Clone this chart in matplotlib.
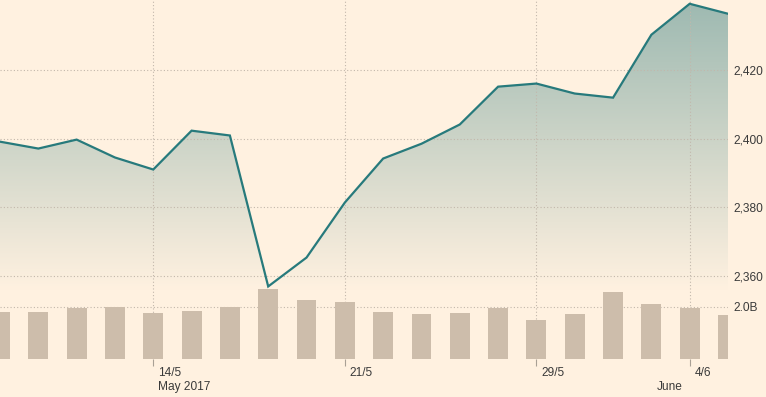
import matplotlib.pyplot as plt
import numpy as np
from matplotlib.colors import to_rgb

plt.rcParams.update({'font.family': 'Liberation Sans', 'font.size': 8.6})

# daily closes and volume (billions)
close = [2399.1, 2397.1, 2399.7, 2394.5, 2391.0, 2402.3, 2400.9, 2357.0, 2365.4, 2381.4,
         2394.2, 2398.5, 2404.1, 2415.1, 2416.0, 2413.1, 2411.9, 2430.2, 2439.2, 2436.3]
volume = [1.81, 1.81, 1.97, 2.00, 1.77, 1.85, 2.00, 2.69, 2.27, 2.19,
          1.81, 1.74, 1.77, 1.97, 1.50, 1.74, 2.58, 2.12, 1.97, 1.69]
tick_pos = [4, 9, 14, 18]
tick_labels = ['14/5', '21/5', '29/5', '4/6']
month_pos = [4, 17]
month_labels = ['May 2017', 'June']
price_ticks = [2360, 2380, 2400, 2420]
vol_ticks = [2.0]

bg = '#fff1e0'
line_col = '#277a7c'
bar_col = '#cdbdab'
grid_col = '#c2b7ab'
text_col = '#3a3a3a'

x = np.arange(len(close))
ylo, yhi = 2335.9, 2440.3

fig = plt.figure(figsize=(7.66, 3.97), dpi=100, facecolor=bg)
rect = [0, 38 / 397, 728 / 766, 359 / 397]

ax = fig.add_axes(rect, facecolor=bg)
ax.set_xlim(0, len(close) - 1)
ax.set_ylim(ylo, yhi)

# gradient fill under the line
top = np.array(to_rgb('#9db9b1'))
bot = np.array(to_rgb(bg))
t = np.linspace(0, 1, 256)[:, None]
grad = (top * (1 - t) + bot * t)[:, None, :]
poly = ax.fill_between(x, close, ylo, facecolor='none', edgecolor='none')
im = ax.imshow(grad, extent=[0, len(close) - 1, 2356, yhi], aspect='auto',
               interpolation='bicubic', zorder=1)
im.set_clip_path(poly.get_paths()[0], transform=ax.transData)
ax.set_ylim(ylo, yhi)

ax.plot(x, close, color=line_col, lw=1.6, zorder=3, solid_joinstyle='miter')

ax.set_yticks(price_ticks, [f'{v:,}' for v in price_ticks])
ax.yaxis.tick_right()
ax.tick_params(axis='y', length=0, pad=3.6, labelcolor=text_col)
ax.set_xticks(tick_pos, [''] * len(tick_pos))
ax.tick_params(axis='x', length=5, width=0.8, color='#a9a095', direction='out')
ax.grid(True, linestyle=(0, (1, 2)), color=grid_col, lw=0.8)
for s in ax.spines.values():
    s.set_visible(False)

for p, lab in zip(tick_pos, tick_labels):
    ax.annotate(lab, xy=(p, 0), xycoords=('data', 'axes fraction'), xytext=(3.6, -5.5),
                textcoords='offset points', ha='left', va='top', color=text_col)
for p, lab in zip(month_pos, month_labels):
    ax.annotate(lab, xy=(p, 0), xycoords=('data', 'axes fraction'), xytext=(3.6, -15.5),
                textcoords='offset points', ha='left', va='top', color=text_col)

# volume bars on their own scale
vax = fig.add_axes(rect, facecolor='none')
vax.set_xlim(0, len(close) - 1)
vax.set_ylim(0, 13.8)
for v in vol_ticks:
    vax.axhline(v, linestyle=(0, (1, 2)), color=grid_col, lw=0.8, zorder=1)
vax.bar(x, volume, width=0.52, color=bar_col, zorder=2)
vax.set_xticks([])
vax.set_yticks(vol_ticks, [f'{v:.1f}B' for v in vol_ticks])
vax.yaxis.tick_right()
vax.tick_params(axis='y', length=0, pad=3.6, labelcolor=text_col)
for s in vax.spines.values():
    s.set_visible(False)

fig.savefig('out.png', dpi=100, facecolor=bg)
